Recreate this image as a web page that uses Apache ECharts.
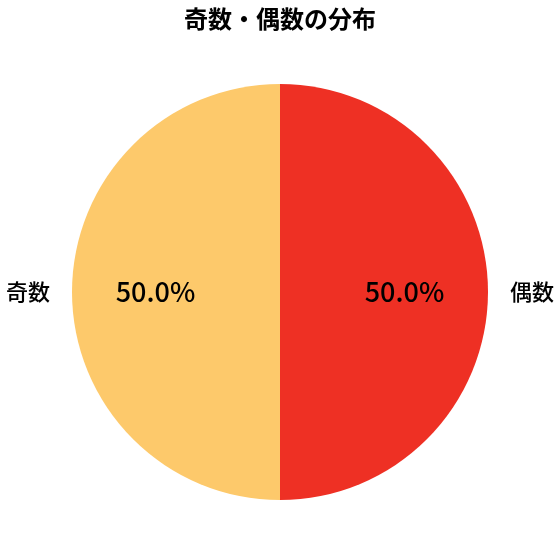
<!DOCTYPE html>
<html>
<head>
<meta charset="utf-8">
<script src="https://cdn.jsdelivr.net/npm/echarts@6/dist/echarts.min.js"></script>
<style>
html,body{margin:0;padding:0;background:#fff;}
#c{width:560px;height:560px;}
</style>
</head>
<body>
<div id="c"></div>
<script>
const titleText = '奇数・偶数の分布';
const categories = ['奇数', '偶数'];
const values = [50, 50];
const colors = ['#FDC96B', '#EE3024'];

const FONT = '"Noto Sans CJK JP", "Noto Sans", sans-serif';
const pieData = categories.map((name, i) => ({ name: name, value: values[i], itemStyle: { color: colors[i] } }));

const chart = echarts.init(document.getElementById('c'), null, { renderer: 'canvas' });
chart.setOption({
  animation: false,
  backgroundColor: '#ffffff',
  title: {
    text: titleText,
    left: 'center',
    top: 2,
    textStyle: { fontFamily: FONT, fontSize: 24, fontWeight: 'bold', color: '#000' }
  },
  series: [
    {
      type: 'pie',
      center: [280, 292],
      radius: [0, 208],
      startAngle: 90,
      clockwise: false,
      silent: true,
      emphasis: { disabled: true },
      data: pieData,
      label: {
        show: true,
        position: 'outside',
        formatter: '{b}',
        fontFamily: FONT,
        fontSize: 22,
        fontWeight: 500,
        color: '#000',
        overflow: 'none',
        distanceToLabelLine: 5
      },
      labelLine: { show: false, length: 17, length2: 0 }
    },
    {
      type: 'pie',
      center: [280, 292],
      radius: [35, 208],
      startAngle: 90,
      clockwise: false,
      silent: true,
      emphasis: { disabled: true },
      data: categories.map((name, i) => ({ name: name, value: values[i] })),
      itemStyle: { color: 'rgba(0,0,0,0)' },
      label: {
        show: true,
        position: 'inside',
        formatter: p => p.percent.toFixed(1) + '%',
        fontFamily: FONT,
        fontSize: 27,
        fontWeight: 500,
        color: '#000'
      },
      labelLine: { show: false }
    }
  ]
});
</script>
</body>
</html>
